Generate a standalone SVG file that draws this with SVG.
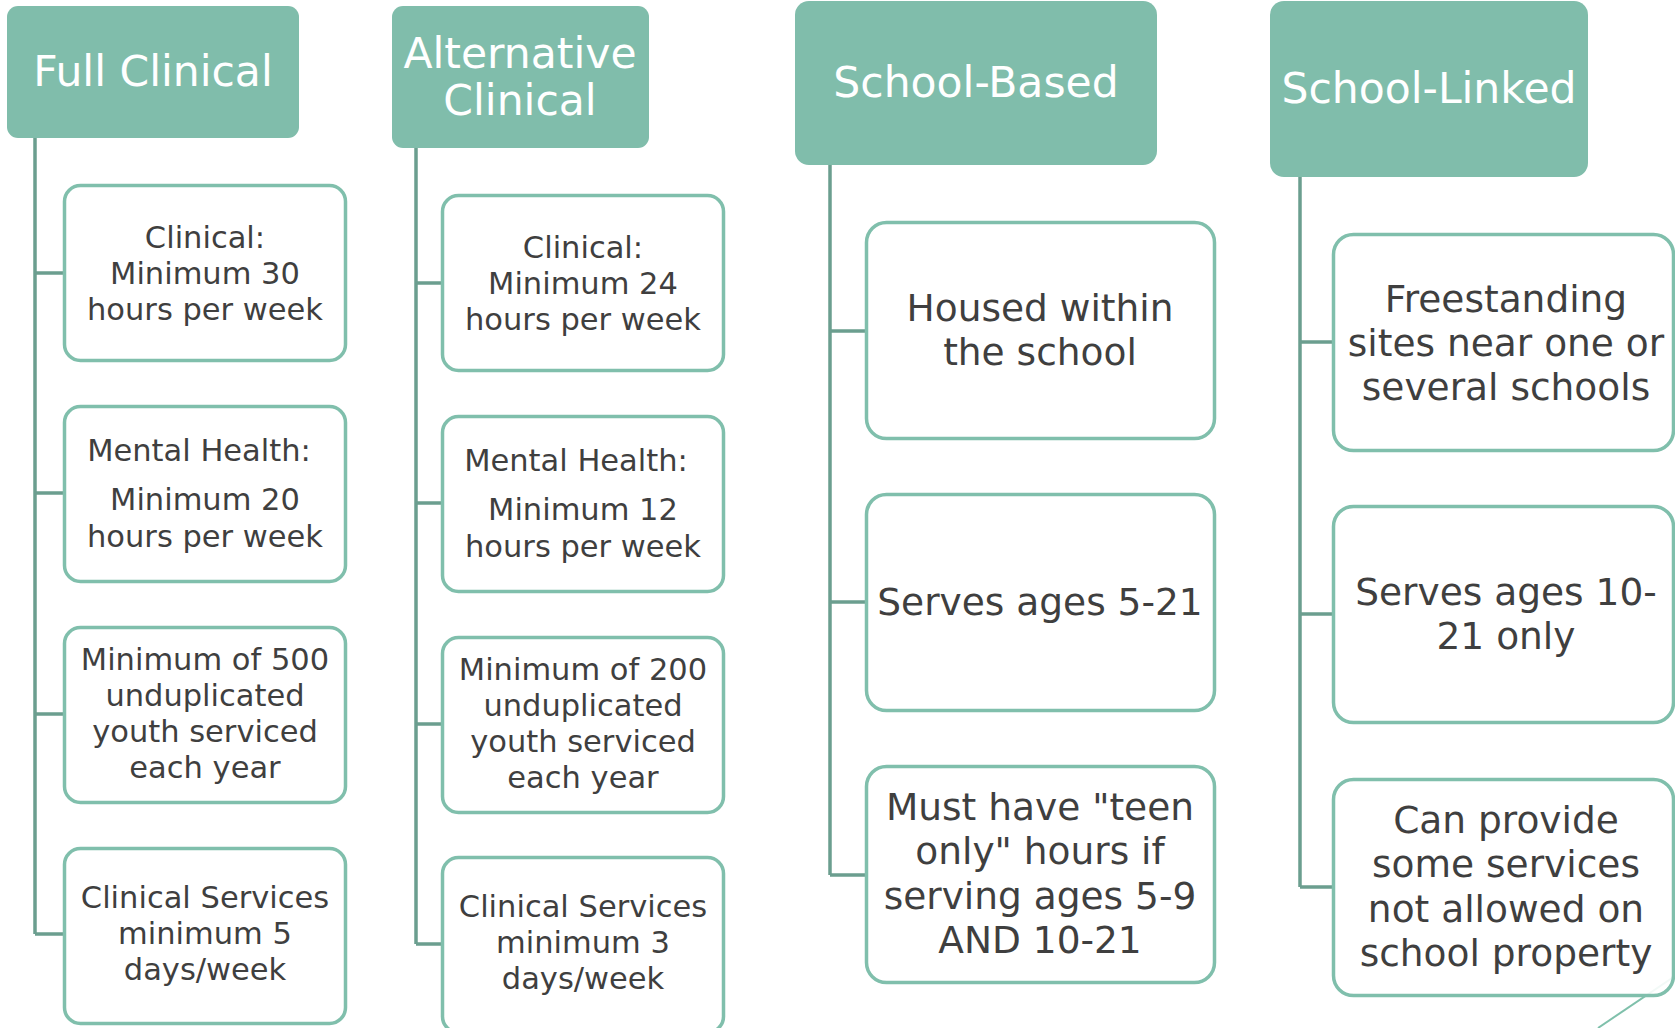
<svg xmlns="http://www.w3.org/2000/svg" width="1675" height="1028" viewBox="0 0 1675 1028">
  <style>
    .hdr { fill: #80bdab; }
    .hdr-t { fill: #ffffff; font-family: "DejaVu Sans", "Liberation Sans", sans-serif; font-size: 42.5px; text-anchor: middle; }
    .box { fill: #ffffff; stroke: #80bfac; stroke-width: 3.5; }
    .t { fill: #3f3f3f; font-family: "DejaVu Sans", "Liberation Sans", sans-serif; text-anchor: middle; }
    .s { font-size: 30.5px; }
    .l { font-size: 37.5px; }
    .conn { fill: none; stroke: #6b9e8f; stroke-width: 3.5; }
  </style>

  <!-- decorative slide stroke, bottom right -->
  <line x1="1598" y1="1028" x2="1675" y2="976" stroke="#7fc0ab" stroke-width="2"/>

  <!-- connectors: one trunk per column with a tick into each child box -->
  <g id="connectors" class="conn">
    <path d="M35 138 V934 M35 273 H64 M35 493 H64 M35 714 H64 M35 934 H64"/>
    <path d="M416 148 V944 M416 283 H442 M416 503 H442 M416 724 H442 M416 944 H442"/>
    <path d="M830 165 V875 M830 331 H866 M830 602 H866 M830 875 H866"/>
    <path d="M1300 177 V887 M1300 342 H1333 M1300 614 H1333 M1300 887 H1333"/>
  </g>

  <!-- column 1: Full Clinical -->
  <g id="full-clinical">
    <rect class="hdr" x="7" y="6" width="292" height="132" rx="11"/>
    <text class="hdr-t" x="153" y="86">Full Clinical</text>
  </g>
  <g id="fc-clinical">
    <rect class="box" x="64.5" y="185.5" width="281" height="175" rx="16"/>
    <text class="t s" x="205"><tspan x="205" y="248">Clinical:</tspan><tspan x="205" y="284">Minimum 30</tspan><tspan x="205" y="320">hours per week</tspan></text>
  </g>
  <g id="fc-mental">
    <rect class="box" x="64.5" y="406.5" width="281" height="175" rx="16"/>
    <text class="t s" x="199" y="461">Mental Health:</text>
    <text class="t s" x="205"><tspan x="205" y="510">Minimum 20</tspan><tspan x="205" y="547">hours per week</tspan></text>
  </g>
  <g id="fc-youth">
    <rect class="box" x="64.5" y="627.5" width="281" height="175" rx="16"/>
    <text class="t s" x="205"><tspan x="205" y="670">Minimum of 500</tspan><tspan x="205" y="706">unduplicated</tspan><tspan x="205" y="742">youth serviced</tspan><tspan x="205" y="778">each year</tspan></text>
  </g>
  <g id="fc-days">
    <rect class="box" x="64.5" y="848.5" width="281" height="175" rx="16"/>
    <text class="t s" x="205"><tspan x="205" y="908">Clinical Services</tspan><tspan x="205" y="944">minimum 5</tspan><tspan x="205" y="980">days/week</tspan></text>
  </g>

  <!-- column 2: Alternative Clinical -->
  <g id="alternative-clinical">
    <rect class="hdr" x="392" y="6" width="257" height="142" rx="11"/>
    <text class="hdr-t" x="520"><tspan x="520" y="68">Alternative</tspan><tspan x="520" y="115">Clinical</tspan></text>
  </g>
  <g id="ac-clinical">
    <rect class="box" x="442.5" y="195.5" width="281" height="175" rx="16"/>
    <text class="t s" x="583"><tspan x="583" y="258">Clinical:</tspan><tspan x="583" y="294">Minimum 24</tspan><tspan x="583" y="330">hours per week</tspan></text>
  </g>
  <g id="ac-mental">
    <rect class="box" x="442.5" y="416.5" width="281" height="175" rx="16"/>
    <text class="t s" x="576" y="471">Mental Health:</text>
    <text class="t s" x="583"><tspan x="583" y="520">Minimum 12</tspan><tspan x="583" y="557">hours per week</tspan></text>
  </g>
  <g id="ac-youth">
    <rect class="box" x="442.5" y="637.5" width="281" height="175" rx="16"/>
    <text class="t s" x="583"><tspan x="583" y="680">Minimum of 200</tspan><tspan x="583" y="716">unduplicated</tspan><tspan x="583" y="752">youth serviced</tspan><tspan x="583" y="788">each year</tspan></text>
  </g>
  <g id="ac-days">
    <rect class="box" x="442.5" y="857.5" width="281" height="175" rx="16"/>
    <text class="t s" x="583"><tspan x="583" y="917">Clinical Services</tspan><tspan x="583" y="953">minimum 3</tspan><tspan x="583" y="989">days/week</tspan></text>
  </g>

  <!-- column 3: School-Based -->
  <g id="school-based">
    <rect class="hdr" x="795" y="1" width="362" height="164" rx="14"/>
    <text class="hdr-t" x="976" y="97">School-Based</text>
  </g>
  <g id="sb-housed">
    <rect class="box" x="866.5" y="222.5" width="348" height="216" rx="20"/>
    <text class="t l" x="1040"><tspan x="1040" y="321">Housed within</tspan><tspan x="1040" y="365">the school</tspan></text>
  </g>
  <g id="sb-ages">
    <rect class="box" x="866.5" y="494.5" width="348" height="216" rx="20"/>
    <text class="t l" x="1040" y="615">Serves ages 5-21</text>
  </g>
  <g id="sb-teen">
    <rect class="box" x="866.5" y="766.5" width="348" height="216" rx="20"/>
    <text class="t l" x="1040"><tspan x="1040" y="820">Must have "teen</tspan><tspan x="1040" y="864">only" hours if</tspan><tspan x="1040" y="909">serving ages 5-9</tspan><tspan x="1040" y="953">AND 10-21</tspan></text>
  </g>

  <!-- column 4: School-Linked -->
  <g id="school-linked">
    <rect class="hdr" x="1270" y="1" width="318" height="176" rx="14"/>
    <text class="hdr-t" x="1429" y="103" font-size="43.5">School-Linked</text>
  </g>
  <g id="sl-freestanding">
    <rect class="box" x="1333.5" y="234.5" width="340" height="216" rx="20"/>
    <text class="t l" x="1506"><tspan x="1506" y="312">Freestanding</tspan><tspan x="1506" y="356">sites near one or</tspan><tspan x="1506" y="400">several schools</tspan></text>
  </g>
  <g id="sl-ages">
    <rect class="box" x="1333.5" y="506.5" width="340" height="216" rx="20"/>
    <text class="t l" x="1506"><tspan x="1506" y="605">Serves ages 10-</tspan><tspan x="1506" y="649">21 only</tspan></text>
  </g>
  <g id="sl-services">
    <rect class="box" x="1333.5" y="779.5" width="340" height="216" rx="20" fill-opacity="0.9"/>
    <text class="t l" x="1506"><tspan x="1506" y="833">Can provide</tspan><tspan x="1506" y="877">some services</tspan><tspan x="1506" y="922">not allowed on</tspan><tspan x="1506" y="966">school property</tspan></text>
  </g>
</svg>
